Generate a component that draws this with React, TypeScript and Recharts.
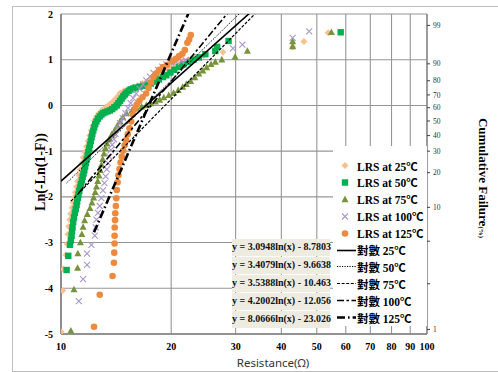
import React from 'react';
import { ScatterChart, Scatter, XAxis, YAxis, CartesianGrid, Legend } from 'recharts';

// Weibull plot of LRS resistance at 5 temperatures
const resistanceTicks = [10, 20, 30, 40, 50, 60, 70, 80, 90, 100];
const weibullTicks = [-5, -4, -3, -2, -1, 0, 1, 2];
const failureTickPos = [1.75, 0.91, 0.54, 0.23, -0.05, -0.34, -0.66, -1.0, -1.47, -2.23, -2.97, -3.9, -4.9];
const failureTickLabels = ['99', '90', '80', '70', '60', '50', '40', '30', '20', '10', '', '', '1'];

const seriesNames = ['LRS at 25℃', 'LRS at 50℃', 'LRS at 75℃', 'LRS at 100℃', 'LRS at 125℃'];
const fitNames = ['對數 25℃', '對數 50℃', '對數 75℃', '對數 100℃', '對數 125℃'];
const fitSlopes = [3.0948, 3.4079, 3.5388, 4.2002, 8.0666];
const fitIntercepts = [-8.7803, -9.6638, -10.463, -12.056, -23.026];

// [resistance, ln(-ln(1-F))]
const lrs25: [number, number][] = [
  [10.0, -4.95], [10.11, -4.05], [10.14, -3.58], [10.32, -3.27], [10.4, -3.03], [10.45, -2.82], [10.5, -2.65],
  [10.56, -2.5], [10.63, -2.37], [10.72, -2.24], [10.8, -2.12], [10.88, -2.01], [10.95, -1.9], [11.03, -1.78],
  [11.1, -1.66], [11.2, -1.53], [11.3, -1.4], [11.4, -1.27], [11.5, -1.14], [11.62, -1.02], [11.74, -0.9],
  [11.86, -0.78], [11.98, -0.66], [12.1, -0.55], [12.22, -0.44], [12.35, -0.33], [12.5, -0.24], [12.7, -0.17],
  [12.95, -0.1], [13.25, -0.04], [13.55, 0.02], [13.85, 0.08], [14.1, 0.14], [14.3, 0.2], [14.5, 0.27],
  [14.85, 0.32], [15.3, 0.36], [15.75, 0.39], [16.2, 0.43], [16.7, 0.48], [17.2, 0.53], [17.7, 0.58],
  [18.2, 0.63], [18.6, 0.68], [19.0, 0.72], [19.5, 0.76], [20.0, 0.8], [20.5, 0.85], [21.0, 0.9], [21.5, 0.95],
  [22.3, 1.0], [23.2, 1.05], [24.5, 1.1], [27.7, 1.17], [42.95, 1.28], [46.1, 1.4], [53.7, 1.59],
];
const lrs50: [number, number][] = [
  [10.36, -3.6], [10.47, -3.29], [10.58, -3.05], [10.64, -2.95], [10.69, -2.85], [10.72, -2.75], [10.75, -2.67],
  [10.8, -2.55], [10.85, -2.45], [10.91, -2.35], [10.97, -2.27], [11.03, -2.18], [11.07, -2.1], [11.12, -2.02],
  [11.16, -1.95], [11.22, -1.87], [11.27, -1.8], [11.33, -1.72], [11.4, -1.64], [11.46, -1.56], [11.52, -1.49],
  [11.58, -1.42], [11.64, -1.34], [11.7, -1.26], [11.76, -1.18], [11.82, -1.1], [11.88, -1.02], [11.94, -0.94],
  [12.0, -0.86], [12.06, -0.78], [12.12, -0.7], [12.18, -0.62], [12.25, -0.55], [12.32, -0.48], [12.4, -0.41],
  [12.5, -0.35], [12.62, -0.29], [12.76, -0.24], [12.9, -0.2], [13.05, -0.17], [13.2, -0.15], [13.4, -0.13],
  [13.6, -0.11], [13.8, -0.08], [14.0, -0.04], [14.2, 0.0], [14.35, 0.05], [14.5, 0.1], [14.65, 0.15],
  [14.8, 0.2], [14.95, 0.24], [15.1, 0.28], [15.3, 0.32], [15.5, 0.35], [15.75, 0.37], [16.0, 0.39],
  [16.4, 0.41], [16.8, 0.43], [17.2, 0.45], [17.6, 0.48], [18.0, 0.52], [18.5, 0.57], [19.0, 0.62],
  [19.4, 0.66], [19.9, 0.72], [20.4, 0.78], [21.0, 0.84], [21.6, 0.9], [22.3, 0.95], [23.0, 1.0], [23.8, 1.05],
  [24.8, 1.12], [26.4, 1.19], [26.7, 1.28], [28.7, 1.41], [58.1, 1.6],
];
const lrs75: [number, number][] = [
  [10.64, -4.93], [10.85, -4.03], [11.1, -3.56], [11.12, -3.24], [11.3, -3.0], [11.4, -2.82], [11.49, -2.66],
  [11.6, -2.52], [11.8, -2.38], [12.0, -2.25], [12.15, -2.13], [12.28, -2.02], [12.4, -1.9], [12.5, -1.78],
  [12.6, -1.66], [12.7, -1.54], [12.8, -1.42], [12.9, -1.3], [13.0, -1.18], [13.1, -1.06], [13.22, -0.94],
  [13.36, -0.84], [13.55, -0.74], [13.75, -0.64], [14.0, -0.55], [14.25, -0.45], [14.5, -0.35], [14.75, -0.26],
  [15.1, -0.18], [15.6, -0.12], [16.1, -0.07], [16.6, -0.03], [17.1, 0.0], [17.6, 0.04], [18.1, 0.08],
  [18.6, 0.12], [19.1, 0.17], [19.7, 0.22], [20.3, 0.27], [20.9, 0.33], [21.5, 0.4], [22.0, 0.46],
  [22.6, 0.53], [23.2, 0.61], [23.8, 0.69], [24.4, 0.76], [25.0, 0.83], [25.7, 0.9], [26.4, 0.95],
  [27.5, 1.0], [29.9, 1.06], [32.3, 1.19], [42.95, 1.29], [42.95, 1.4], [54.8, 1.6],
];
const lrs100: [number, number][] = [
  [11.19, -4.28], [11.49, -3.8], [11.78, -3.49], [11.78, -3.24], [12.11, -3.05], [12.37, -2.85], [12.44, -2.67],
  [12.5, -2.5], [12.62, -2.35], [12.76, -2.2], [12.89, -2.03], [13.02, -1.86], [13.14, -1.7], [13.24, -1.55],
  [13.34, -1.4], [13.44, -1.26], [13.55, -1.12], [13.67, -0.98], [13.8, -0.86], [13.95, -0.74], [14.1, -0.62],
  [14.3, -0.5], [14.5, -0.39], [14.75, -0.28], [15.0, -0.17], [15.25, -0.06], [15.5, 0.05], [15.75, 0.16],
  [16.05, 0.26], [16.4, 0.36], [16.75, 0.46], [17.1, 0.55], [17.5, 0.63], [17.9, 0.71], [18.4, 0.78],
  [18.9, 0.85], [19.4, 0.9], [20.0, 0.93], [20.6, 0.95], [21.3, 0.97], [21.9, 0.99], [29.5, 1.25],
  [31.3, 1.33], [42.95, 1.48], [47.65, 1.62],
];
const lrs125: [number, number][] = [
  [12.31, -4.84], [12.76, -4.14], [13.83, -3.73], [13.95, -3.44], [13.98, -3.22], [14.01, -3.02], [14.01, -2.85],
  [14.02, -2.67], [14.05, -2.51], [14.07, -2.36], [14.12, -2.2], [14.16, -2.03], [14.21, -1.85], [14.28, -1.68],
  [14.35, -1.53], [14.45, -1.39], [14.55, -1.25], [14.66, -1.12], [14.78, -0.99], [14.92, -0.87], [15.07, -0.76],
  [15.22, -0.63], [15.39, -0.5], [15.55, -0.35], [15.71, -0.2], [15.9, -0.08], [16.1, 0.02], [16.38, 0.1],
  [16.7, 0.18], [17.08, 0.26], [17.35, 0.38], [17.62, 0.5], [17.9, 0.62], [18.2, 0.7], [18.56, 0.78],
  [19.0, 0.84], [19.5, 0.89], [20.17, 0.97], [20.6, 1.02], [21.03, 1.08], [21.46, 1.13], [21.8, 1.21],
  [22.15, 1.37], [22.39, 1.44], [22.63, 1.54],
];

const allSeries = [lrs25, lrs50, lrs75, lrs100, lrs125];
const markerColors = ['#FAC090', '#00B050', '#77933C', '#A996C8', '#EC8A40'];
const fitDash = ['', '1.2 1.3', '3 1.6', '7 2.5 2.5 2.5', '8 3 1.6 3'];
const fitWidth = [1.6, 1, 1.2, 1.6, 2.6];

const serif = "'Liberation Serif', 'Noto Sans CJK TC', serif";

function Marker({ kind, cx, cy }: { kind: number; cx: number; cy: number }) {
  const c = markerColors[kind];
  if (kind === 0) {
    const r = 3.5;
    return <polygon points={`${cx},${cy - r} ${cx + r},${cy} ${cx},${cy + r} ${cx - r},${cy}`} fill={c} />;
  }
  if (kind === 1) return <rect x={cx - 3.2} y={cy - 3.2} width={6.4} height={6.4} fill={c} />;
  if (kind === 2) return <polygon points={`${cx},${cy - 3.9} ${cx + 3.5},${cy + 2.7} ${cx - 3.5},${cy + 2.7}`} fill={c} />;
  if (kind === 3)
    return (
      <path d={`M${cx - 3},${cy - 3}L${cx + 3},${cy + 3}M${cx - 3},${cy + 3}L${cx + 3},${cy - 3}`} stroke={c} strokeWidth={1.1} fill="none" />
    );
  return <circle cx={cx} cy={cy} r={3.3} fill={c} />;
}

const renderLegend = () => (
  <div style={{ position: 'relative', width: 94, height: 180, background: '#fff', fontFamily: serif, fontWeight: 'bold', fontSize: 11.5, color: '#000' }}>
    {seriesNames.map((name, i) => (
      <div key={name} style={{ position: 'absolute', left: 0, top: 11 + i * 16.9, height: 17, display: 'flex', alignItems: 'center', whiteSpace: 'nowrap' }}>
        <svg width={24} height={17}>
          <Marker kind={i} cx={12} cy={8.5} />
        </svg>
        <span>{name}</span>
      </div>
    ))}
    {fitNames.map((name, i) => (
      <div key={name} style={{ position: 'absolute', left: 0, top: 11 + (i + 5) * 16.9, height: 17, display: 'flex', alignItems: 'center', whiteSpace: 'nowrap' }}>
        <svg width={24} height={17}>
          <line x1={4} x2={23} y1={8.5} y2={8.5} stroke="#000" strokeWidth={fitWidth[i]} strokeDasharray={fitDash[i] || undefined} />
        </svg>
        <span>{name}</span>
      </div>
    ))}
  </div>
);

export default function App() {
  const pointSets = allSeries.map((s) => s.map(([r, f]) => ({ r, f })));
  const fitSets = allSeries.map((s, i) => {
    const xs = s.map((p) => p[0]);
    return [Math.min(...xs), Math.max(...xs)].map((r) => ({ r, f: fitSlopes[i] * Math.log(r) + fitIntercepts[i] }));
  });
  const equations = fitSlopes.map((a, i) => `y = ${a}ln(x) - ${Math.abs(fitIntercepts[i])}`);

  return (
    <div style={{ position: 'absolute', left: 0, top: 0, width: 498, height: 372, background: '#fff', overflow: 'hidden' }}>
      <div style={{ position: 'absolute', left: 12, top: 6, width: 520, height: 364, border: '1px solid #BFBFBF' }} />
      <ScatterChart width={498} height={372} margin={{ top: 14, right: 41, bottom: 18, left: 31 }}>
        <CartesianGrid yAxisId="left" stroke="#969696" strokeWidth={1.1} />
        <XAxis
          type="number"
          dataKey="r"
          scale="log"
          domain={[10, 100]}
          ticks={resistanceTicks}
          interval={0}
          allowDataOverflow
          height={20}
          axisLine={{ stroke: '#7F7F7F', strokeWidth: 1.6 }}
          tickLine={false}
          tickMargin={3}
          tick={{ fontFamily: serif, fontWeight: 'bold', fontSize: 10, fill: '#000' }}
        />
        <YAxis
          yAxisId="left"
          type="number"
          dataKey="f"
          domain={[-5, 2]}
          ticks={weibullTicks}
          interval={0}
          allowDataOverflow
          width={30}
          axisLine={{ stroke: '#7F7F7F', strokeWidth: 1.6 }}
          tickLine={false}
          tick={{ fontFamily: serif, fontWeight: 'bold', fontSize: 10, fill: '#000' }}
        />
        <YAxis
          yAxisId="right"
          orientation="right"
          type="number"
          domain={[-5, 2]}
          ticks={failureTickPos}
          interval={0}
          allowDataOverflow
          width={30}
          axisLine={{ stroke: '#7F7F7F', strokeWidth: 1.2 }}
          tickLine={{ stroke: '#404040' }}
          tickSize={3}
          tickMargin={3}
          tickFormatter={(v: number) => failureTickLabels[failureTickPos.indexOf(v)]}
          tick={{ fontFamily: serif, fontSize: 7.5, fill: '#333' }}
        />
        {pointSets.map((pts, i) => (
          <Scatter
            key={seriesNames[i]}
            name={seriesNames[i]}
            yAxisId="left"
            data={pts}
            isAnimationActive={false}
            shape={(p: any) => <Marker kind={i} cx={p.cx} cy={p.cy} />}
          />
        ))}
        {fitSets.map((pts, i) => (
          <Scatter
            key={fitNames[i]}
            name={fitNames[i]}
            yAxisId="left"
            data={pts}
            isAnimationActive={false}
            line={{ stroke: '#000', strokeWidth: fitWidth[i], strokeDasharray: fitDash[i] || undefined }}
            lineType="joint"
            shape={() => <g />}
          />
        ))}
        <Legend
          content={renderLegend}
          layout="horizontal"
          verticalAlign="middle"
          align="center"
          wrapperStyle={{ left: 333, top: 146, width: 94, height: 180 }}
        />
      </ScatterChart>
      {equations.map((eq, i) => (
        <div
          key={eq}
          style={{
            position: 'absolute', left: 232, top: 239 + i * 18, width: 98, height: 16.5, lineHeight: '16.5px',
            background: '#EEECE1', fontFamily: serif, fontWeight: 'bold', fontSize: 10, color: '#111',
            textAlign: 'center', whiteSpace: 'nowrap',
          }}
        >
          {eq}
        </div>
      ))}
      <div style={{ position: 'absolute', left: 41, top: 172, transform: 'translate(-50%, -50%) rotate(-90deg)', fontFamily: serif, fontWeight: 'bold', fontSize: 14, whiteSpace: 'nowrap' }}>
        Ln(-Ln(1-F))
      </div>
      <div style={{ position: 'absolute', left: 483, top: 178, transform: 'translate(-50%, -50%) rotate(90deg)', fontFamily: serif, fontWeight: 'bold', fontSize: 13, whiteSpace: 'nowrap' }}>
        Cumulative Failure<span style={{ fontSize: 7 }}>(%)</span>
      </div>
      <div style={{ position: 'absolute', left: 273, top: 362, transform: 'translate(-50%, -50%)', fontFamily: "'Noto Sans', sans-serif", fontSize: 11.5, color: '#333', whiteSpace: 'nowrap' }}>
        Resistance(Ω)
      </div>
    </div>
  );
}
